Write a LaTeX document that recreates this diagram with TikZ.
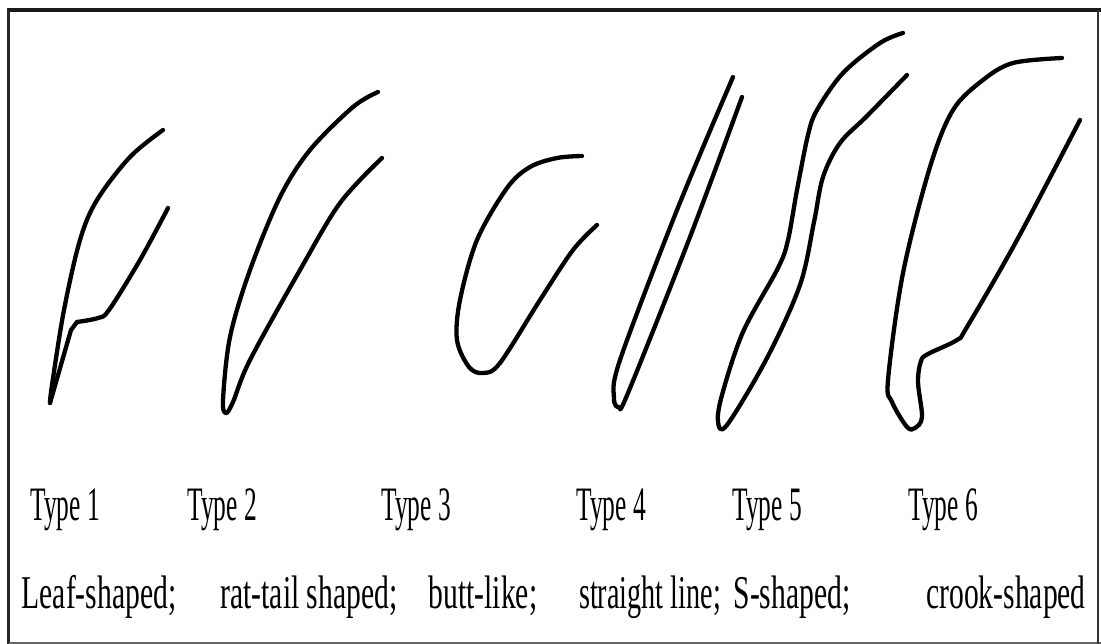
\documentclass[tikz,border=0pt]{standalone}
\usepackage{fontspec}
\usepackage{graphicx}
\setmainfont{Liberation Serif}
\newcommand\condensed[2]{\scalebox{#1}[1]{#2}}
\tikzset{
  outline/.style={line width=4.3pt, line cap=round, line join=round, black},
  curve/.style={outline, smooth, tension=0.55},
  typelabel/.style={anchor=base, inner sep=0pt, font=\fontsize{48}{52}\selectfont},
  desclabel/.style={anchor=base, inner sep=0pt, font=\fontsize{47}{52}\selectfont},
}
\begin{document}
\begin{tikzpicture}[x=1pt,y=-1pt]
\useasboundingbox (0,0) rectangle (1101,644);
\fill[white] (0,0) rectangle (1101,644);
% frame
\draw[line width=4pt, black!90] (7,10) -- (1101,10);
\draw[line width=3pt, black!85] (8.5,10) -- (8.5,644);
\draw[line width=2pt, black!60] (8.5,642.5) -- (1101,642.5);
\draw[line width=2pt, black!80] (1098,10) -- (1098,644);

% Type 1: leaf-shaped
\draw[curve] plot coordinates {(163,130) (130,157) (97,200) (80,240) (64,310) (52,385) (50,403)};
\draw[outline] (50,403) -- (71,330) -- (77,322);
\draw[curve] plot coordinates {(77,322) (98,318) (109,310) (140,260) (168,208)};

% Type 2: rat-tail shaped
\draw[curve] plot coordinates {(378,92) (353,107) (310,150) (280,197) (250,270) (230,337) (223,400) (226,413) (233,402) (250,360) (300,270) (340,203) (382,158)};

% Type 3: butt-like
\draw[curve] plot coordinates {(582,156) (557,158) (530,167) (507,188) (477,240) (460,300) (457,340) (469,367) (483,373) (500,363) (540,300) (573,250) (597,225)};

% Type 4: straight line
\draw[curve] plot coordinates {(733,77) (677,210) (620,360) (614,398) (619,407) (628,393) (690,237) (742,97)};

% Type 5: S-shaped
\draw[curve] plot coordinates {(903,33) (880,43) (843,73) (817,110) (808,135) (797,190) (788,240) (778,268) (743,332) (722,395) (718,422) (727,425) (767,358) (800,285) (814,222) (823,177) (840,143) (867,116) (907,75)};

% Type 6: crook-shaped
\draw[curve] plot coordinates {(1062,58) (1013,63) (983,80) (953,110) (930,167) (903,273) (888,380) (892,402) (907,427) (915,428) (922,417) (918,382) (921,361) (928,354) (957,340) (967,327) (1017,240) (1080,120)};

% type captions
\node[typelabel] (t1) at (65,520)  {\condensed{0.53}{Type 1}};
\node[typelabel] (t2) at (222,520) {\condensed{0.53}{Type 2}};
\node[typelabel] (t3) at (416,520) {\condensed{0.53}{Type 3}};
\node[typelabel] (t4) at (611,520) {\condensed{0.53}{Type 4}};
\node[typelabel] (t5) at (767,520) {\condensed{0.53}{Type 5}};
\node[typelabel] (t6) at (943,520) {\condensed{0.53}{Type 6}};

% shape descriptions
\node[desclabel] (d1) at (99,608)   {\condensed{0.63}{Leaf-shaped;}};
\node[desclabel] (d2) at (309,608)  {\condensed{0.63}{rat-tail shaped;}};
\node[desclabel] (d3) at (483,608)  {\condensed{0.63}{butt-like;}};
\node[desclabel] (d4) at (650,608)  {\condensed{0.6}{straight line;}};
\node[desclabel] (d5) at (792,608)  {\condensed{0.63}{S-shaped;}};
\node[desclabel] (d6) at (1006,608) {\condensed{0.63}{crook-shaped}};
\end{tikzpicture}
\end{document}
